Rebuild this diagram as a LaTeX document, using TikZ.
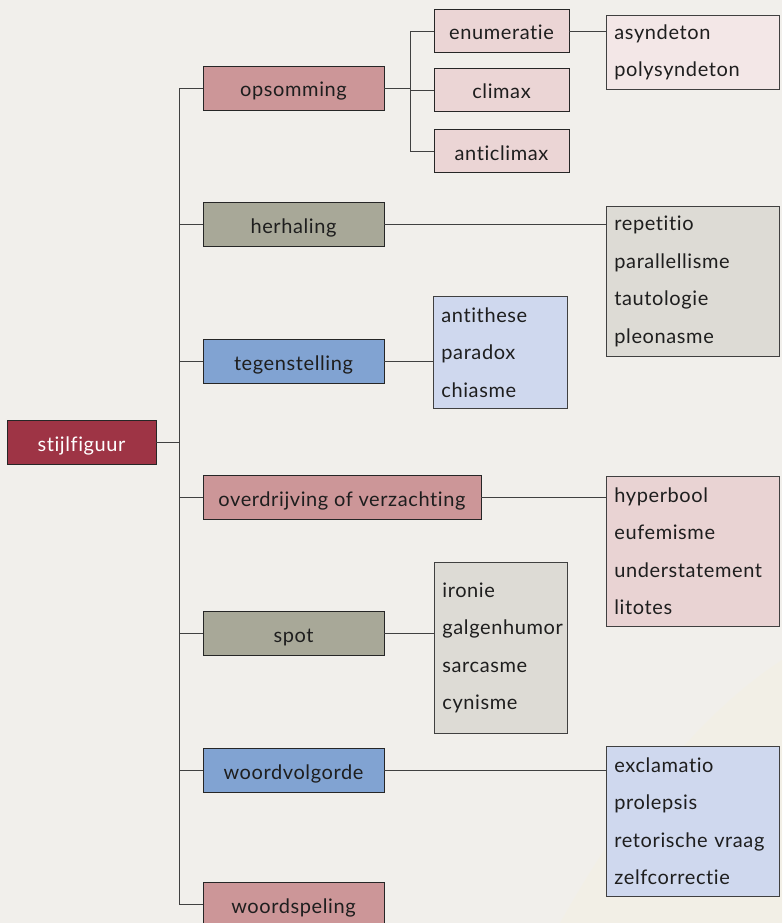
\documentclass[tikz,border=0pt]{standalone}
\usepackage{fontspec}
\setmainfont{Lato}[Ligatures={NoCommon,NoContextual}, LetterSpace=3]
\definecolor{bgc}{HTML}{F1EFEB}
\definecolor{cream}{HTML}{F4F0E4}
\definecolor{rootc}{HTML}{9E3445}
\definecolor{pinkc}{HTML}{CC9698}
\definecolor{olivec}{HTML}{A8A898}
\definecolor{bluec}{HTML}{81A3D2}
\definecolor{lpink}{HTML}{EBD5D5}
\definecolor{vlpink}{HTML}{F3E7E7}
\definecolor{lgray}{HTML}{DDDBD5}
\definecolor{lblue}{HTML}{CFD8EE}
\definecolor{mpink}{HTML}{E9D3D3}
\definecolor{txt}{HTML}{1E1E1E}
\begin{document}
\begin{tikzpicture}[x=1pt,y=-1pt,
  box/.style={draw=black!85, line width=0.8pt, inner sep=0pt, text=txt,
    font=\fontsize{20}{24}\selectfont, minimum height=44pt,
    text height=20pt, text depth=2pt},
  cat/.style={box, minimum width=181pt},
  sub/.style={box, minimum width=135pt},
  lst/.style={draw=black!75, line width=0.8pt, inner ysep=0pt, inner xsep=8pt,
    align=left, anchor=north west, text=txt, font=\fontsize{20}{37.5}\selectfont},
  con/.style={draw=black!75, line width=0.8pt}]
\fill[bgc] (0,0) rectangle (782,923);
\fill[cream, opacity=0.6] (560,923) .. controls (640,780) and (720,700) .. (782,660) -- (782,923) -- cycle;
\useasboundingbox (0,0) rectangle (782,923);

\node[box, fill=rootc, text=white, minimum width=149pt] (root) at (81.5,442) {stijlfiguur};

\node[cat, fill=pinkc] (ops) at (293.5,88) {opsomming};
\node[cat, fill=olivec] (her) at (293.5,224) {herhaling};
\node[cat, fill=bluec] (teg) at (293.5,361) {tegenstelling};
\node[box, fill=pinkc, minimum width=278pt] (ovr) at (342,497) {overdrijving of verzachting};
\node[cat, fill=olivec] (spo) at (293.5,633) {spot};
\node[cat, fill=bluec] (wvo) at (293.5,770) {woordvolgorde};
\node[cat, fill=pinkc] (wsp) at (293.5,904) {woordspeling};

\node[sub, fill=lpink, minimum height=43pt] (enu) at (501.5,31) {enumeratie};
\node[sub, fill=lpink, minimum height=43pt] (cli) at (501.5,90) {climax};
\node[sub, fill=lpink, minimum height=43pt] (ant) at (501.5,151) {anticlimax};

\node[lst, fill=vlpink, text width=157pt, minimum height=74pt] (asy) at (606,15) {asyndeton\\polysyndeton};
\node[lst, fill=lgray, text width=157pt, minimum height=150pt] (rep) at (606,206) {repetitio\\parallellisme\\tautologie\\pleonasme};
\node[lst, fill=lblue, text width=118pt, minimum height=112pt] (ath) at (433,296) {antithese\\paradox\\chiasme};
\node[lst, fill=mpink, text width=157pt, minimum height=150pt] (hyp) at (606,476) {hyperbool\\eufemisme\\understatement\\litotes};
\node[lst, fill=lgray, text width=117pt, minimum height=171pt] (iro) at (434,562) {ironie\\galgenhumor\\sarcasme\\cynisme};
\node[lst, fill=lblue, text width=157pt, minimum height=150pt] (exc) at (606,746) {exclamatio\\prolepsis\\retorische vraag\\zelfcorrectie};

\coordinate (t) at (179,442);
\coordinate (s) at (410,88);

\draw[con] (root.east) -- (t);
\draw[con] (ops.west) -- (ops.west -| t) -- (wsp.west -| t) -- (wsp.west);
\foreach \n in {her,teg,ovr,spo,wvo} \draw[con] (\n.west) -- (\n.west -| t);

\draw[con] (ops.east) -- (s);
\draw[con] (enu.west) -- (enu.west -| s) -- (ant.west -| s) -- (ant.west);
\draw[con] (cli.west) -- (cli.west -| s);

\draw[con] (enu.east) -- (enu.east -| asy.west);
\draw[con] (her.east) -- (her.east -| rep.west);
\draw[con] (teg.east) -- (teg.east -| ath.west);
\draw[con] (ovr.east) -- (ovr.east -| hyp.west);
\draw[con] (spo.east) -- (spo.east -| iro.west);
\draw[con] (wvo.east) -- (wvo.east -| exc.west);
\end{tikzpicture}
\end{document}
